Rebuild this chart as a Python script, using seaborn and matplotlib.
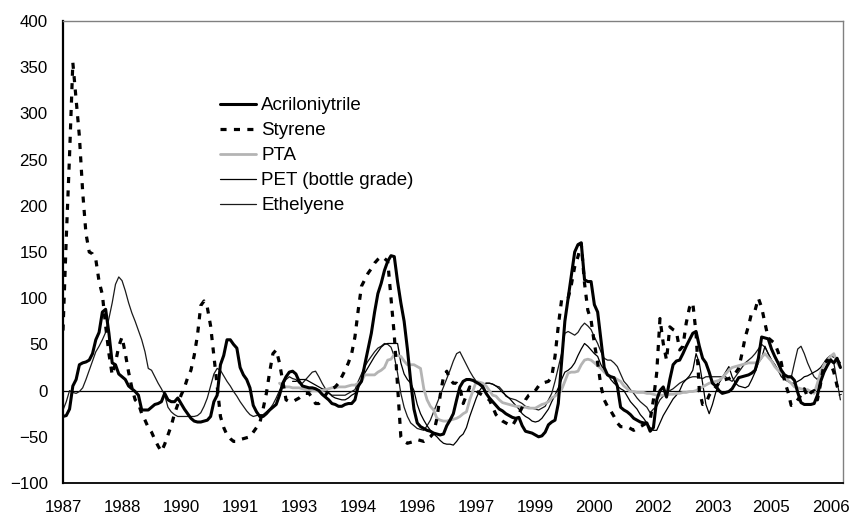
import numpy as np
import pandas as pd
import matplotlib
matplotlib.use("Agg")
import matplotlib.pyplot as plt
import seaborn as sns

# ---- data (monthly index, month 0 = Jan 1987) ----
tick_labels = ["1987", "1988", "1990", "1991", "1993", "1994", "1996",
               "1997", "1999", "2000", "2002", "2003", "2005", "2006"]
tick_step = 18

acr = [-28, -27, -20, 5, 12, 28, 30, 31, 33, 40,
       55, 63, 85, 88, 62, 30, 28, 18, 15, 12,
       5, 2, -1, -5, -21, -21, -21, -18, -15, -14,
       -12, -3, -10, -12, -12, -8, -14, -20, -25, -30,
       -33, -34, -34, -33, -32, -28, -12, -5, 28, 38,
       55, 55, 50, 46, 25, 17, 12, 3, -16, -23,
       -28, -28, -25, -21, -18, -15, -5, 8, 15, 20,
       21, 18, 10, 5, 4, 3, 3, 2, 0, -4,
       -7, -10, -14, -15, -17, -17, -15, -14, -14, -10,
       5, 10, 28, 45, 62, 85, 105, 116, 130, 140,
       146, 145, 118, 95, 75, 45, 10, -20, -35, -39,
       -41, -43, -44, -46, -47, -48, -47, -38, -32, -25,
       -10, 4, 10, 12, 12, 11, 9, 7, 4, -3,
       -8, -12, -16, -20, -22, -25, -27, -29, -30, -29,
       -38, -44, -45, -46, -48, -50, -49, -45, -37, -34,
       -32, -14, 30, 75, 100, 125, 150, 158, 160, 120,
       118, 118, 93, 85, 55, 25, 17, 15, 14, 5,
       -18, -21, -23, -26, -30, -32, -34, -35, -35, -44,
       -40, -10, 0, 4, -7, 12, 28, 32, 33, 40,
       48, 55, 62, 64, 48, 35, 30, 20, 8, 5,
       0, -3, -2, -1, 2, 8, 14, 15, 16, 17,
       19, 22, 35, 58, 57, 56, 45, 37, 30, 22,
       17, 15, 15, 11, -2, -13, -15, -15, -15, -14,
       -5, 10, 20, 27, 33, 30, 35, 25]

sty = [65, 165, 255, 355, 315, 275, 215, 170, 150, 148,
       142, 118, 104, 70, 40, 17, 30, 48, 58, 40,
       20, 3, -10, -14, -25, -32, -40, -45, -53, -60,
       -66, -58, -48, -38, -25, -15, -5, 3, 14, 22,
       38, 60, 92, 97, 90, 70, 38, 5, -28, -40,
       -48, -52, -55, -55, -53, -52, -51, -50, -45, -40,
       -35, -20, -3, 20, 40, 44, 30, 10, -10, -12,
       -12, -10, -8, -5, -3, -3, -8, -14, -14, -10,
       -5, 0, 2, 4, 8, 15, 22, 30, 40, 58,
       87, 113, 120, 127, 132, 138, 142, 145, 143, 140,
       100, 60, 5, -50, -55, -57, -56, -55, -53, -54,
       -55, -53, -50, -46, -30, -5, 15, 21, 12, 8,
       8, 4, -14, -5, 4, 2, 0, -3, -5, -8,
       -10, -18, -26, -30, -33, -35, -37, -38, -32, -25,
       -18, -10, -5, -3, 0, 5, 8, 9, 10, 15,
       37, 70, 98, 98, 100, 115, 134, 145, 159, 116,
       87, 76, 51, 30, 5, -10, -17, -22, -28, -35,
       -39, -39, -39, -41, -43, -41, -39, -37, -35, -32,
       -10, 19, 78, 51, 33, 69, 66, 64, 44, 48,
       73, 90, 95, 62, 0, -15, -14, -5, 0, 4,
       8, 11, 12, 13, 15, 19, 24, 40, 58, 70,
       85, 87, 100, 90, 73, 57, 54, 51, 42, 30,
       10, -1, -16, -15, -10, -5, 2, -7, -2, 0,
       -10, 8, 29, 33, 30, 20, 5, -5]

pta_start = 66
pta = [8, 5, 4, 4, 3, 3, 3, 2, 1, 1,
       0, 0, 0, 0, 1, 2, 3, 3, 4, 4,
       4, 5, 6, 6, 8, 10, 17, 17, 17, 17,
       20, 22, 25, 33, 34, 39, 38, 37, 32, 28,
       28, 28, 26, 24, 2, -10, -17, -21, -30, -32,
       -33, -33, -32, -31, -30, -28, -25, -23, -10, 0,
       10, 9, 8, 5, 0, -5, -6, -10, -13, -14,
       -15, -16, -17, -17, -18, -18, -19, -19, -19, -17,
       -15, -14, -12, -8, -6, -3, 1, 10, 19, 20,
       20, 21, 28, 33, 34, 33, 30, 27, 24, 20,
       17, 15, 14, 12, 10, 5, 2, -1, -1, -2,
       -2, -2, -3, -3, -4, -5, -5, -5, -5, -4,
       -4, -3, -3, -2, -2, -1, -1, 0, 2, 4,
       6, 8, 9, 10, 11, 14, 18, 22, 25, 26,
       27, 28, 29, 30, 30, 30, 31, 36, 40, 36,
       32, 26, 22, 19, 15, 11, 8, 4, 3, 2,
       1, 1, -1, -3, 8, 20, 28, 33, 37, 40,
       30, 25]

pet_start = 70
pet = [10, 10, 12, 12, 12, 10, 8, 6, 4, 2,
       1, -2, -6, -8, -9, -10, -10, -8, -5, -3,
       3, 10, 19, 25, 31, 37, 42, 47, 50, 51,
       51, 51, 51, 30, 18, 12, 8, 0, -15, -25,
       -32, -38, -43, -47, -50, -54, -57, -58, -58, -59,
       -55, -50, -47, -40, -28, -18, -8, 0, 5, 8,
       8, 7, 5, 2, -2, -5, -8, -12, -16, -20,
       -25, -28, -30, -33, -34, -33, -30, -25, -20, -12,
       -5, 3, 12, 20, 22, 25, 30, 38, 45, 51,
       48, 44, 40, 37, 28, 22, 18, 12, 8, 5,
       2, 0, -6, -12, -16, -20, -26, -30, -35, -40,
       -43, -43, -35, -27, -21, -15, -9, -5, 0, 8,
       12, 16, 22, 40, 30, 8, -15, -25, -15, -2,
       8, 14, 20, 26, 15, 8, 5, 4, 3, 5,
       12, 20, 30, 35, 48, 40, 33, 28, 22, 15,
       12, 10, 8, 8, 10, 12, 15, 16, 18, 20,
       22, 25, 30, 35, 38, 36, 35, 30]

eth = [-21, -12, 0, -2, -3, -1, 3, 12, 22, 32,
       42, 48, 55, 63, 78, 95, 115, 123, 119, 108,
       95, 84, 75, 65, 55, 42, 24, 22, 15, 8,
       2, -5, -18, -23, -26, -28, -28, -28, -28, -28,
       -28, -27, -24, -17, -8, 5, 18, 24, 22, 16,
       10, 5, -1, -6, -12, -17, -22, -26, -28, -27,
       -26, -26, -23, -20, -15, -8, 0, 6, 12, 15,
       13, 12, 8, 8, 12, 16, 20, 21, 15, 8,
       2, -3, -5, -5, -5, -5, -5, -3, -1, 1,
       10, 18, 26, 32, 37, 42, 46, 48, 51, 50,
       47, 37, 19, -3, -18, -28, -35, -38, -41, -42,
       -43, -38, -32, -23, -14, -5, 4, 13, 22, 32,
       40, 42, 35, 28, 21, 15, 10, 6, 7, 8,
       8, 7, 5, 4, 0, -6, -8, -9, -10, -12,
       -14, -17, -18, -19, -20, -21, -19, -17, -10, -3,
       10, 25, 40, 62, 64, 62, 60, 63, 69, 73,
       70, 66, 58, 51, 42, 35, 33, 33, 30, 26,
       18, 10, 6, 1, -3, -8, -12, -15, -18, -24,
       -20, -17, -10, -6, -3, 0, 2, 5, 8, 10,
       12, 14, 15, 15, 14, 13, 15, 15, 15, 15,
       15, 15, 15, 12, 10, 15, 20, 25, 30, 33,
       36, 40, 45, 50, 47, 40, 33, 28, 22, 18,
       16, 14, 14, 30, 45, 48, 40, 30, 22, 15,
       12, 18, 22, 28, 35, 30, 10, -10]

# ---- styling ----
sns.set_theme(style="white")
plt.rcParams["font.family"] = ["Liberation Sans", "DejaVu Sans"]
plt.rcParams["text.color"] = "black"
plt.rcParams["xtick.color"] = "black"
plt.rcParams["ytick.color"] = "black"

W, H = 852, 520
fig = plt.figure(figsize=(W / 100, H / 100), dpi=100)
ax = fig.add_axes([63 / W, 37 / H, 780 / W, 462 / H])

ax.axhline(0, color="black", lw=0.9, zorder=1)

common = dict(ax=ax, estimator=None, errorbar=None, legend=False)
sns.lineplot(x=np.arange(len(eth)), y=eth, color="#1a1a1a", linewidth=0.9,
             label="Ethelyene", **common)
sns.lineplot(x=np.arange(pet_start, pet_start + len(pet)), y=pet, color="black",
             linewidth=0.9, label="PET (bottle grade)", **common)
sns.lineplot(x=np.arange(pta_start, pta_start + len(pta)), y=pta, color="#b4b4b4",
             linewidth=2.0, label="PTA", **common)
sns.lineplot(x=np.arange(len(sty)), y=sty, color="black", linewidth=2.3,
             linestyle=(0, (1.9, 2.3)), label="Styrene", **common)
sns.lineplot(x=np.arange(len(acr)), y=acr, color="black", linewidth=2.2,
             label="Acriloniytrile", **common)

ax.set_ylim(-100, 400)
ax.set_yticks(np.arange(-100, 401, 50))
ax.set_xlim(0, 237.8)
ax.set_xticks([i * tick_step for i in range(len(tick_labels))])
ax.set_xticklabels(tick_labels)
ax.set_xlabel("")
ax.set_ylabel("")

for side in ["top", "right"]:
    ax.spines[side].set_color("#808080")
    ax.spines[side].set_linewidth(1.0)
ax.spines["left"].set_color("black")
ax.spines["left"].set_linewidth(1.6)
ax.spines["bottom"].set_color("black")
ax.spines["bottom"].set_linewidth(1.3)

ax.tick_params(axis="both", direction="in", length=5, width=1,
               labelsize=12.2, colors="black")
ax.tick_params(axis="y", pad=11)
ax.tick_params(axis="x", pad=12)

handles, labels = ax.get_legend_handles_labels()
order = ["Acriloniytrile", "Styrene", "PTA", "PET (bottle grade)", "Ethelyene"]
hmap = dict(zip(labels, handles))
ax.legend([hmap[k] for k in order], order, loc="upper left",
          bbox_to_anchor=(220 / W, 1 - 97 / H), bbox_transform=fig.transFigure,
          frameon=False, fontsize=13.5, handlelength=1.92, handletextpad=0.27,
          labelspacing=0.42, borderpad=0, borderaxespad=0)

fig.savefig("out.png", dpi=100)
